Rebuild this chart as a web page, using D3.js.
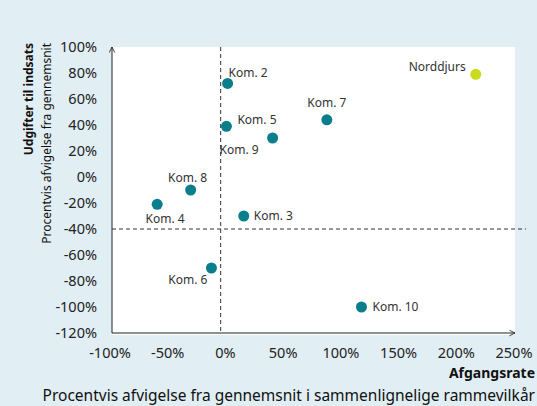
<!DOCTYPE html>
<html>
  <head>
    <meta charset="utf-8"/>
    <style>
    body {
      margin: 0;
      background: #e1eef4;
      font-family: "Noto Sans", sans-serif;
    }
    </style>
  </head>
  <body>
    <script src="https://d3js.org/d3.v7.min.js"></script>
    <script>
    var width = 537, height = 406;

    // data (percent deviation)
    var names = ["Kom. 2", "Kom. 5", "Kom. 9", "Kom. 7", "Norddjurs", "Kom. 8", "Kom. 4", "Kom. 3", "Kom. 6", "Kom. 10"];
    var afgang = [1, 0, 40, 87, 216, -31, -60, 15, -13, 117];
    var udgift = [72, 39, 30, 44, 79, -10, -21, -30, -70, -100];
    var xTicks = [-100, -50, 0, 50, 100, 150, 200, 250];
    var yTicks = [100, 80, 60, 40, 20, 0, -20, -40, -60, -80, -100, -120];
    var refX = -5, refY = -40;

    // label placement per point: [dx, dy, anchor]
    var labelPos = {
      "Kom. 2": [1, -11, "start"],
      "Kom. 5": [11, -7, "start"],
      "Kom. 9": [-14, 12, "end"],
      "Kom. 7": [0, -17, "middle"],
      "Norddjurs": [-10, -8, "end"],
      "Kom. 8": [-3, -12, "middle"],
      "Kom. 4": [8, 14, "middle"],
      "Kom. 3": [10, 0, "start"],
      "Kom. 6": [-4, 12, "end"],
      "Kom. 10": [11, 0, "start"]
    };

    var pLeft = 112, pRight = 515, pTop = 47, pBottom = 333;

    var x = d3.scaleLinear().domain([-100, 250]).range([111, 515]);
    var y = d3.scaleLinear().domain([-120, 100]).range([pBottom, pTop]);

    var svg = d3.select("body").append("svg")
        .attr("width", width)
        .attr("height", height)
        .style("display", "block");

    svg.append("rect")
        .attr("x", pLeft)
        .attr("y", pTop)
        .attr("width", pRight - pLeft)
        .attr("height", pBottom - pTop + 2)
        .attr("fill", "#fff");

    var defs = svg.append("defs");
    defs.append("marker")
        .attr("id", "arrow")
        .attr("viewBox", "0 0 10 10")
        .attr("refX", 9)
        .attr("refY", 5)
        .attr("markerWidth", 7)
        .attr("markerHeight", 7)
        .attr("orient", "auto")
      .append("path")
        .attr("d", "M1,1 L9,5 L1,9")
        .attr("fill", "none")
        .attr("stroke", "#222")
        .attr("stroke-width", 1.2);

    // reference lines
    svg.append("line")
        .attr("x1", pLeft).attr("x2", 526)
        .attr("y1", y(refY)).attr("y2", y(refY))
        .attr("stroke", "#333")
        .attr("stroke-dasharray", "4,3");

    svg.append("line")
        .attr("x1", x(refX)).attr("x2", x(refX))
        .attr("y1", pTop).attr("y2", pBottom)
        .attr("stroke", "#333")
        .attr("stroke-dasharray", "4,3");

    // axes
    svg.append("line")
        .attr("x1", pLeft).attr("x2", pLeft)
        .attr("y1", pBottom).attr("y2", pTop)
        .attr("stroke", "#222")
        .attr("marker-end", "url(#arrow)");

    svg.append("line")
        .attr("x1", pLeft).attr("x2", pRight)
        .attr("y1", pBottom).attr("y2", pBottom)
        .attr("stroke", "#222")
        .attr("marker-end", "url(#arrow)");

    svg.selectAll(".ytick")
        .data(yTicks)
      .enter().append("text")
        .attr("class", "ytick")
        .attr("x", 97)
        .attr("y", function(d) { return y(d); })
        .attr("dy", "0.35em")
        .attr("text-anchor", "end")
        .attr("font-size", 14.5)
        .attr("fill", "#222")
        .text(function(d) { return d + "%"; });

    svg.selectAll(".xtick")
        .data(xTicks)
      .enter().append("text")
        .attr("class", "xtick")
        .attr("x", function(d) { return x(d) - 1; })
        .attr("y", 358)
        .attr("text-anchor", "middle")
        .attr("font-size", 14.5)
        .attr("fill", "#222")
        .text(function(d) { return d + "%"; });

    // axis titles
    svg.append("text")
        .attr("x", 535).attr("y", 378)
        .attr("text-anchor", "end")
        .attr("font-size", 14)
        .attr("font-weight", "bold")
        .attr("fill", "#111")
        .text("Afgangsrate");

    svg.append("text")
        .attr("x", 535).attr("y", 401)
        .attr("text-anchor", "end")
        .attr("font-size", 15.5)
        .attr("fill", "#111")
        .text("Procentvis afvigelse fra gennemsnit i sammenlignelige rammevilkår");

    svg.append("text")
        .attr("transform", "translate(33,43) rotate(-90)")
        .attr("text-anchor", "end")
        .attr("font-size", 12)
        .attr("font-weight", "bold")
        .attr("fill", "#111")
        .text("Udgifter til indsats");

    svg.append("text")
        .attr("transform", "translate(51,43) rotate(-90)")
        .attr("text-anchor", "end")
        .attr("font-size", 12)
        .attr("fill", "#111")
        .text("Procentvis afvigelse fra gennemsnit");

    // points
    var pts = names.map(function(n, i) {
      return { name: n, x: afgang[i], y: udgift[i] };
    });

    svg.selectAll(".dot")
        .data(pts)
      .enter().append("circle")
        .attr("class", "dot")
        .attr("cx", function(d) { return x(d.x); })
        .attr("cy", function(d) { return y(d.y); })
        .attr("r", 5.5)
        .attr("fill", function(d) { return d.name == "Norddjurs" ? "#cbdc1e" : "#0b7e8c"; });

    svg.selectAll(".lbl")
        .data(pts)
      .enter().append("text")
        .attr("class", "lbl")
        .attr("x", function(d) { return x(d.x) + labelPos[d.name][0]; })
        .attr("y", function(d) { return y(d.y) + labelPos[d.name][1]; })
        .attr("dy", "0.35em")
        .attr("text-anchor", function(d) { return labelPos[d.name][2]; })
        .attr("font-size", 12)
        .attr("fill", "#333")
        .text(function(d) { return d.name; });

    </script>
  </body>
</html>
